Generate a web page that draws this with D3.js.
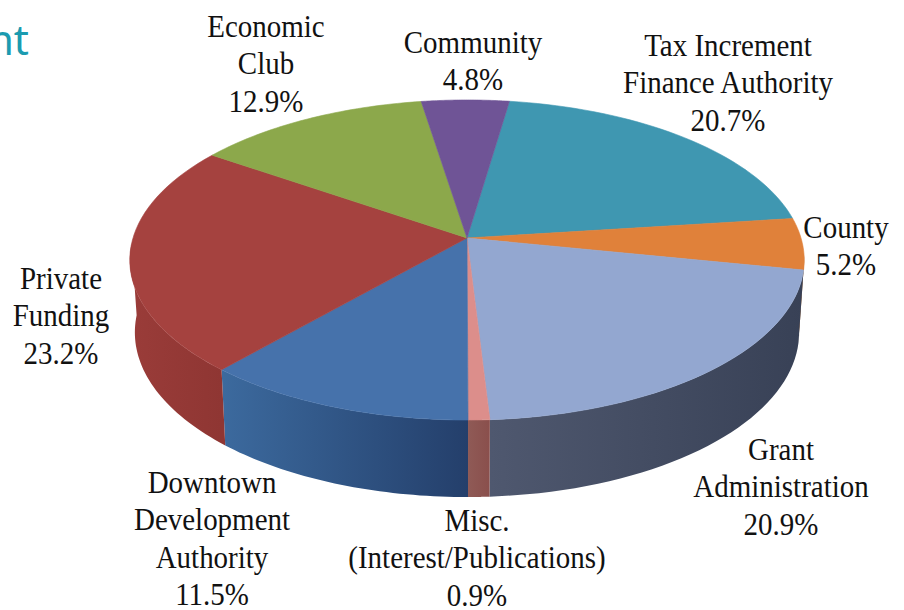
<!DOCTYPE html>
<html><head><meta charset="utf-8">
<script src="https://cdn.jsdelivr.net/npm/d3@7"></script>
<style>html,body{margin:0;background:#fff}svg{display:block}</style></head>
<body><svg id="c" width="904" height="610"></svg>
<script>
const categories=["Tax Increment Finance Authority","County","Grant Administration","Misc. (Interest/Publications)","Downtown Development Authority","Private Funding","Economic Club","Community"];
const values=[20.7,5.2,20.9,0.9,11.5,23.2,12.9,4.8];
const labelLines=[["Tax Increment","Finance Authority"],["County"],["Grant","Administration"],["Misc.","(Interest/Publications)"],["Downtown","Development","Authority"],["Private","Funding"],["Economic","Club"],["Community"]];
const topColors=["#3f97b1","#e0813a","#93a7d0","#dc8e8b","#4672ab","#a5423f","#8ca84b","#6f5496"];
const wallFrom=["#2a6477","#96551f","#4f586f","#8f5a56","#3c6a9e","#9a3c39","#5d7030","#493764"];
const wallTo=["#2a6477","#96551f","#384156","#8a4f4c","#243f6b","#8f3633","#5d7030","#493764"];
const labelPos=[[728,56],[846,238],[781,460],[477,531],[212,493],[61,289],[266,37],[473,53]];

const svg=d3.select("#c"),defs=svg.append("defs");
const apex=[467,238],a=157,b=334,k=0.1375,depth=77,rad=d=>d*Math.PI/180;
const proj=t=>{const u=Math.sin(t),v=-Math.cos(t),w=1-k*v;return [apex[0]+b*u/w,apex[1]+a*v/w];};
const pie=d3.pie().sort(null).startAngle(rad(8.3)).endAngle(rad(368.3));
const arcs=pie(values);
const samples=(s,e)=>d3.range(0,41).map(i=>s+(e-s)*i/40);
const line=d3.line();
const wallMin=rad(96),wallMax=rad(268);

// outer walls
arcs.forEach((d,i)=>{
  const s=Math.max(d.startAngle,wallMin),e=Math.min(d.endAngle,wallMax);
  if(e<=s)return;
  const ts=samples(s,e),top=ts.map(proj),bot=ts.map(t=>{const p=proj(t);return [apex[0]+(p[0]-apex[0])*0.985,p[1]+depth*(0.93+0.07*Math.max(0,-Math.cos(t)))];}).reverse();
  const xs=top.map(p=>p[0]);
  const g=defs.append("linearGradient").attr("id","w"+i).attr("gradientUnits","userSpaceOnUse")
    .attr("x1",d3.min(xs)).attr("x2",d3.max(xs)).attr("y1",0).attr("y2",0);
  g.append("stop").attr("offset",0).attr("stop-color",wallFrom[i]);
  g.append("stop").attr("offset",1).attr("stop-color",wallTo[i]);
  svg.append("path").attr("d",line(top.concat(bot))+"Z").attr("fill",`url(#w${i})`);
});

// top faces
arcs.forEach((d,i)=>{
  const pts=[apex].concat(samples(d.startAngle,d.endAngle).map(proj));
  svg.append("path").attr("d",line(pts)+"Z").attr("fill",topColors[i]).attr("stroke",topColors[i]).attr("stroke-width",0.6);
});

// labels
const fmt=d3.format(".1f");
const group=svg.append("g").attr("font-family","'Liberation Serif',serif").attr("font-size",31.5).attr("fill","#111").attr("text-anchor","middle");
arcs.forEach((d,i)=>{
  const lines=labelLines[i].concat(fmt(d.data)+"%");
  const [x,y]=labelPos[i];
  const t=group.append("text").attr("transform",`translate(${x},${y}) scale(0.92,1)`);
  lines.forEach((l,j)=>t.append("tspan").attr("x",0).attr("y",j*37.5).text(l));
});

svg.append("text").attr("x",29).attr("y",55).attr("text-anchor","end").attr("font-family","'Noto Sans',sans-serif").attr("font-size",42).attr("fill","#1b9bb0").text("nt");
</script></body></html>
